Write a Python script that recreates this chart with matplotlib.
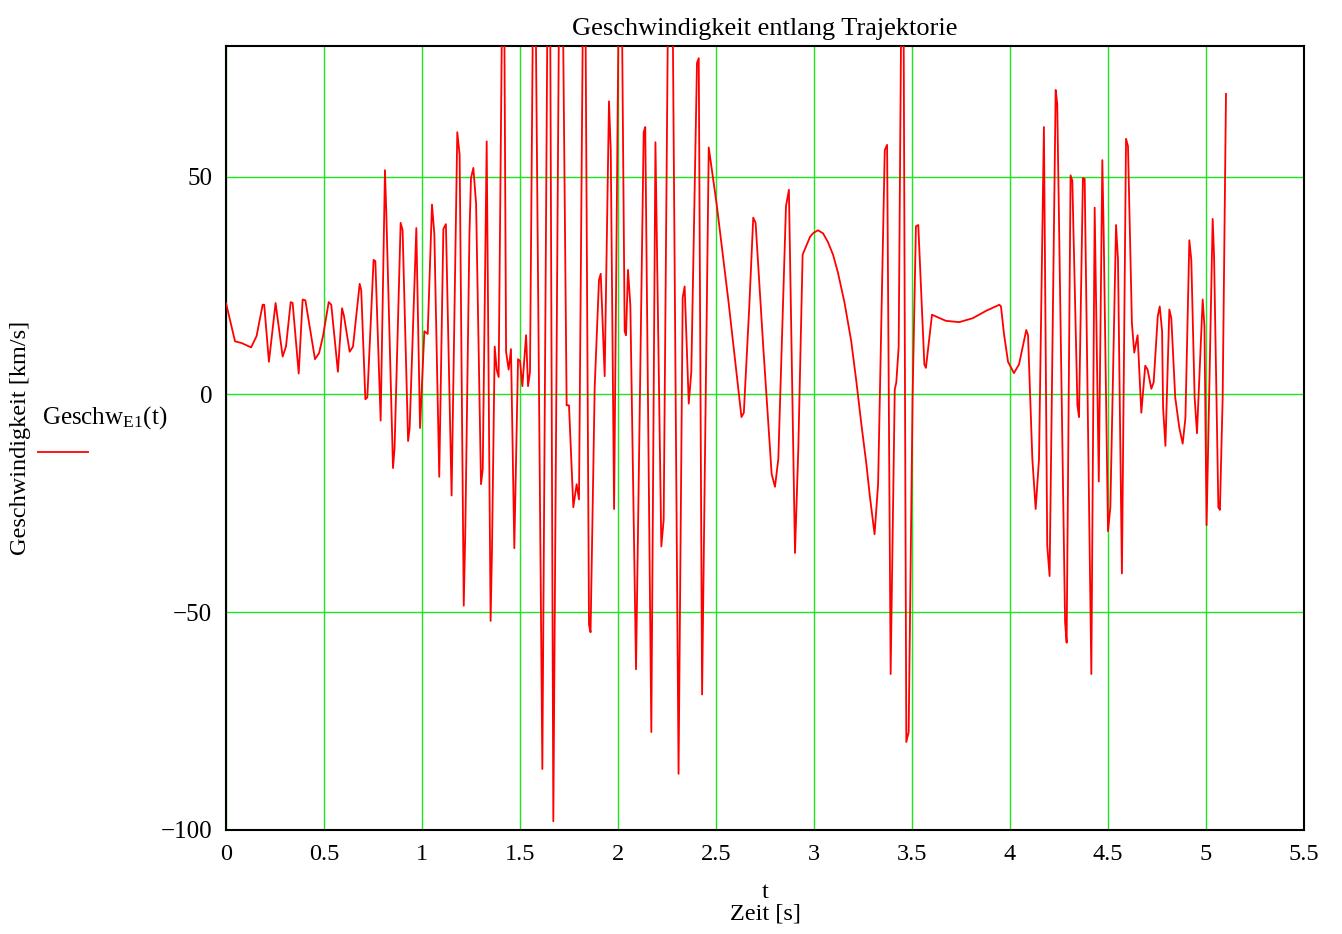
import matplotlib
matplotlib.use("Agg")
import matplotlib.pyplot as plt
from matplotlib.lines import Line2D

plt.rcParams['font.family'] = ['Liberation Serif', 'DejaVu Serif']
plt.rcParams['mathtext.fontset'] = 'custom'
plt.rcParams['mathtext.rm'] = 'Liberation Serif'
plt.rcParams['mathtext.it'] = 'Liberation Serif'
plt.rcParams['axes.unicode_minus'] = True

title = "Geschwindigkeit entlang Trajektorie"
xlabel = "t\nZeit [s]"
ylabel = "Geschwindigkeit [km/s]"
legend_label = r"Geschw$_{\mathrm{E1}}$(t)"

xticks = [0, 0.5, 1, 1.5, 2, 2.5, 3, 3.5, 4, 4.5, 5, 5.5]
xticklabels = ["0", "0.5", "1", "1.5", "2", "2.5", "3", "3.5", "4", "4.5", "5", "5.5"]
yticks = [-100, -50, 0, 50]
yticklabels = ["\u2212100", "\u221250", "0", "50"]

t = [0.000, 0.046, 0.080, 0.128, 0.156, 0.187, 0.195, 0.219, 0.253, 0.289,
     0.306, 0.330, 0.340, 0.371, 0.391, 0.405, 0.454, 0.475, 0.495, 0.524,
     0.537, 0.571, 0.592, 0.602, 0.631, 0.648, 0.682, 0.690, 0.711, 0.721,
     0.753, 0.762, 0.789, 0.811, 0.818, 0.852, 0.860, 0.891, 0.901, 0.929,
     0.937, 0.971, 0.990, 1.012, 1.029, 1.051, 1.063, 1.088, 1.109, 1.122,
     1.151, 1.180, 1.192, 1.213, 1.221, 1.242, 1.250, 1.262, 1.276, 1.301,
     1.310, 1.330, 1.350, 1.357, 1.371, 1.381, 1.391, 1.408, 1.420, 1.429,
     1.442, 1.454, 1.471, 1.490, 1.500, 1.512, 1.531, 1.541, 1.551, 1.566,
     1.580, 1.614, 1.640, 1.654, 1.670, 1.699, 1.719, 1.738, 1.750, 1.772,
     1.789, 1.801, 1.821, 1.834, 1.852, 1.860, 1.881, 1.903, 1.912, 1.932,
     1.954, 1.963, 1.980, 2.003, 2.020, 2.034, 2.041, 2.051, 2.063, 2.092,
     2.131, 2.139, 2.170, 2.191, 2.221, 2.233, 2.255, 2.279, 2.309, 2.330,
     2.340, 2.361, 2.374, 2.403, 2.412, 2.429, 2.463, 2.503, 2.563, 2.630,
     2.642, 2.670, 2.690, 2.702, 2.741, 2.784, 2.801, 2.818, 2.857, 2.872,
     2.903, 2.920, 2.942, 2.980, 2.995, 3.020, 3.046, 3.071, 3.097, 3.122,
     3.156, 3.190, 3.216, 3.241, 3.267, 3.284,
     3.309, 3.327, 3.361, 3.373, 3.391, 3.412, 3.420, 3.432, 3.445, 3.457,
     3.471, 3.483, 3.503, 3.520, 3.532, 3.563, 3.571, 3.602, 3.673, 3.741,
     3.810, 3.878, 3.946, 3.954, 3.969, 3.990, 4.020, 4.046, 4.071, 4.083,
     4.092, 4.114, 4.131, 4.148, 4.173, 4.190, 4.202, 4.233, 4.241, 4.281,
     4.289, 4.309, 4.318, 4.344, 4.352, 4.372, 4.381, 4.415, 4.432, 4.453,
     4.471, 4.478, 4.500, 4.512, 4.541, 4.551, 4.571, 4.592, 4.602, 4.622,
     4.634, 4.651, 4.670, 4.690, 4.702, 4.721, 4.733, 4.754, 4.764, 4.776,
     4.781, 4.793, 4.813, 4.823, 4.843, 4.864, 4.881, 4.895, 4.915, 4.925,
     4.942, 4.954, 4.983, 4.992, 5.003, 5.034, 5.041, 5.063, 5.071, 5.085,
     5.102]

v = [21.0, 12.2, 11.8, 10.8, 13.4, 20.6, 20.6, 7.5, 21.0, 8.7,
     11.0, 21.2, 21.0, 4.8, 21.8, 21.6, 8.1, 9.5, 13.4, 21.2,
     20.6, 5.2, 19.8, 18.0, 9.8, 11.0, 25.4, 23.9, -1.1, -0.7,
     30.9, 30.6, -6.0, 51.5, 41.5, -16.9, -12.4, 39.4, 37.7, -10.7,
     -7.7, 38.2, -7.7, 14.5, 13.9, 43.6, 36.8, -18.9, 38.0, 39.1,
     -23.2, 60.2, 55.0, -48.5, -31.2, 36.8, 49.7, 52.0, 43.8, -20.6,
     -17.1, 58.1, -52.0, -35.9, 11.0, 5.7, 4.0, 86.0, 86.0, 9.8,
     5.7, 10.4, -35.3, 8.1, 7.7, 1.9, 13.6, 1.9, 5.2, 88.0,
     88.0, -86.0, 88.0, 88.0, -98.0, 88.0, 88.0, -2.5, -2.5, -25.9,
     -20.6, -24.1, 88.0, 88.0, -52.9, -54.6, 1.6, 26.3, 27.7, 4.2,
     67.3, 56.1, -26.3, 88.0, 88.0, 14.5, 13.6, 28.6, 20.4, -63.1,
     60.2, 61.4, -77.5, 57.9, -34.9, -28.8, 88.0, 88.0, -87.1, 22.2,
     24.8, -2.1, 5.2, 76.1, 77.2, -68.9, 56.7, 43.8, 21.6, -5.2,
     -4.2, 20.4, 40.6, 39.4, 11.0, -18.3, -21.2, -14.8, 43.2, 47.0,
     -36.4, -12.4, 32.1, 36.2, 37.0, 37.7, 37.0, 35.0, 32.1, 28.0,
     21.0, 12.2, 3.0, -6.6, -15.9, -23.0,
     -32.1, -20.6, 56.1, 57.3, -64.2, 1.1, 2.8, 11.0, 88.0, 88.0,
     -79.8, -77.5, -0.7, 38.6, 38.9, 6.9, 6.1, 18.3, 16.9, 16.6,
     17.5, 19.2, 20.6, 20.2, 14.0, 7.5, 4.9, 6.9, 12.2, 14.8,
     13.6, -14.8, -26.3, -14.8, 61.4, -34.7, -41.7, 69.9, 66.7, -52.3,
     -57.0, 50.3, 49.1, -2.5, -5.2, 49.7, 49.5, -64.2, 42.9, -20.0,
     53.8, 36.8, -31.4, -25.9, 38.9, 30.9, -41.1, 58.7, 57.0, 16.3,
     9.6, 13.6, -4.2, 6.6, 5.7, 1.3, 2.8, 18.0, 20.2, 14.5,
     -3.0, -11.8, 19.5, 17.5, -0.7, -7.7, -11.3, -5.4, 35.4, 30.9,
     -0.7, -8.9, 21.8, 15.7, -30.0, 40.3, 32.1, -25.9, -26.5, -0.7,
     69.0]

fig = plt.figure(figsize=(13.42, 9.34), dpi=100)
ax = fig.add_axes([226/1342, 1-830/934, (1304-226)/1342, (830-46)/934])

ax.plot(t, v, color='#ff0000', linewidth=1.3, zorder=3)

ax.set_xlim(0, 5.5)
ax.set_ylim(-100, 80)
ax.set_xticks(xticks)
ax.set_xticklabels(xticklabels, fontsize=17.5)
ax.set_yticks(yticks)
ax.set_yticklabels(yticklabels, fontsize=18)
ax.tick_params(axis='x', length=0, pad=10)
ax.tick_params(axis='y', length=0, pad=10)
ax.grid(True, color='#1ee61e', linewidth=1.0, zorder=1)
for s in ax.spines.values():
    s.set_linewidth(1.5)
    s.set_color('black')

ax.set_title(title, fontsize=19, pad=8)
ax.set_xlabel(xlabel, fontsize=17.5, linespacing=1.05)
ax.xaxis.set_label_coords(0.5, -(903 - 830) / 784, transform=ax.transAxes)
ax.xaxis.label.set_va('center')
ax.set_ylabel(ylabel, fontsize=17.5)
ax.yaxis.set_label_coords(-(226 - 20) / 1078, 0.5)
ax.yaxis.label.set_va('center')

fig.text(42/1342, 1-418/934, legend_label, fontsize=18, ha='left', va='center')
fig.add_artist(Line2D([38/1342, 88/1342], [1-452/934, 1-452/934],
                      color='#ff0000', linewidth=1.3, transform=fig.transFigure))

fig.savefig("out.png", dpi=100)
